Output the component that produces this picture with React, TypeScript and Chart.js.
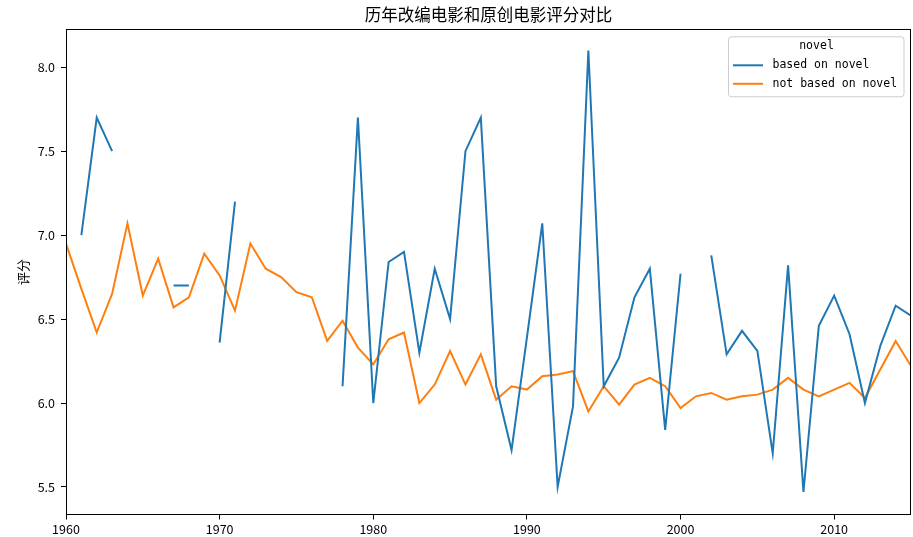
import React, { useEffect, useRef } from "react";
import { Chart, registerables } from "chart.js";

Chart.register(...registerables);

const years: number[] = [
  1960, 1961, 1962, 1963, 1964, 1965, 1966, 1967, 1968, 1969,
  1970, 1971, 1972, 1973, 1974, 1975, 1976, 1977, 1978, 1979,
  1980, 1981, 1982, 1983, 1984, 1985, 1986, 1987, 1988, 1989,
  1990, 1991, 1992, 1993, 1994, 1995, 1996, 1997, 1998, 1999,
  2000, 2001, 2002, 2003, 2004, 2005, 2006, 2007, 2008, 2009,
  2010, 2011, 2012, 2013, 2014, 2015,
];

const basedOnNovel: (number | null)[] = [
  null, 7.0, 7.7, 7.5, null, null, null, 6.7, 6.7, null,
  6.36, 7.2, null, null, null, null, null, null, 6.1, 7.7,
  6.0, 6.84, 6.9, 6.3, 6.8, 6.5, 7.5, 7.7, 6.1, 5.72,
  6.39, 7.07, 5.5, 5.98, 8.1, 6.1, 6.27, 6.63, 6.8, 5.84,
  6.77, null, 6.88, 6.29, 6.43, 6.31, 5.7, 6.82, 5.47, 6.46,
  6.64, 6.41, 6.0, 6.34, 6.58, 6.52,
];

const notBasedOnNovel: number[] = [
  6.95, 6.68, 6.42, 6.65, 7.07, 6.64, 6.86, 6.57, 6.63, 6.89,
  6.76, 6.55, 6.95, 6.8, 6.75, 6.66, 6.63, 6.37, 6.49, 6.33,
  6.23, 6.38, 6.42, 6.0, 6.11, 6.31, 6.11, 6.29, 6.02, 6.1,
  6.08, 6.16, 6.17, 6.19, 5.95, 6.1, 5.99, 6.11, 6.15, 6.1,
  5.97, 6.04, 6.06, 6.02, 6.04, 6.05, 6.08, 6.15, 6.08, 6.04,
  6.08, 6.12, 6.03, 6.2, 6.37, 6.22,
];

const xTicks: number[] = [1960, 1970, 1980, 1990, 2000, 2010];
const yTicks: number[] = [5.5, 6.0, 6.5, 7.0, 7.5, 8.0];

const seriesLabels: string[] = ["based on novel", "not based on novel"];
const seriesColors: string[] = ["#1f77b4", "#ff7f0e"];
const legendTitle = "novel";
const chartTitle = "历年改编电影和原创电影评分对比";
const yTitle = "评分";

const CJK = "'Noto Sans CJK SC', sans-serif";
const MONO = "'DejaVu Sans Mono', monospace";

const framePlugin = {
  id: "frame",
  afterDraw(chart: any) {
    const { ctx, chartArea } = chart;
    const { left, top, right, bottom } = chartArea;
    ctx.save();
    // title centred over the plot area
    ctx.fillStyle = "#000";
    ctx.font = `16.5px ${CJK}`;
    ctx.textAlign = "center";
    ctx.textBaseline = "middle";
    ctx.fillText(chartTitle, (left + right) / 2, 15);
    // frame
    ctx.strokeStyle = "#000";
    ctx.lineWidth = 1;
    ctx.strokeRect(Math.round(left) + 0.5, Math.round(top) + 0.5, Math.round(right - left) - 1, Math.round(bottom - top));
    // legend
    const bx = right - 182.5;
    const by = top + 7.5;
    const bw = 175.5;
    const bh = 60;
    const r = 3;
    ctx.beginPath();
    ctx.moveTo(bx + r, by);
    ctx.lineTo(bx + bw - r, by);
    ctx.arcTo(bx + bw, by, bx + bw, by + r, r);
    ctx.lineTo(bx + bw, by + bh - r);
    ctx.arcTo(bx + bw, by + bh, bx + bw - r, by + bh, r);
    ctx.lineTo(bx + r, by + bh);
    ctx.arcTo(bx, by + bh, bx, by + bh - r, r);
    ctx.lineTo(bx, by + r);
    ctx.arcTo(bx, by, bx + r, by, r);
    ctx.closePath();
    ctx.fillStyle = "rgba(255,255,255,0.8)";
    ctx.fill();
    ctx.strokeStyle = "#cccccc";
    ctx.stroke();
    ctx.fillStyle = "#000";
    ctx.font = `11.5px ${MONO}`;
    ctx.textBaseline = "middle";
    ctx.textAlign = "center";
    ctx.fillText(legendTitle, bx + 88, by + 9.5);
    ctx.textAlign = "left";
    seriesLabels.forEach((lab, i) => {
      const y = by + 28.5 + i * 18.5;
      ctx.strokeStyle = seriesColors[i];
      ctx.lineWidth = 2;
      ctx.beginPath();
      ctx.moveTo(bx + 4.5, y);
      ctx.lineTo(bx + 34.5, y);
      ctx.stroke();
      ctx.fillStyle = "#000";
      ctx.fillText(lab, bx + 44, y);
    });
    ctx.restore();
  },
};

export default function App() {
  const ref = useRef<HTMLCanvasElement>(null);
  useEffect(() => {
    if (!ref.current) return;
    const chart = new Chart(ref.current, {
      type: "line",
      data: {
        datasets: [
          {
            label: seriesLabels[0],
            data: years.map((y, i) => ({ x: y, y: basedOnNovel[i] })) as any,
            borderColor: seriesColors[0],
            backgroundColor: seriesColors[0],
            borderWidth: 2,
            pointRadius: 0,
            spanGaps: false,
            tension: 0,
          },
          {
            label: seriesLabels[1],
            data: years.map((y, i) => ({ x: y, y: notBasedOnNovel[i] })) as any,
            borderColor: seriesColors[1],
            backgroundColor: seriesColors[1],
            borderWidth: 2,
            pointRadius: 0,
            tension: 0,
          },
        ],
      },
      options: {
        responsive: false,
        animation: false,
        devicePixelRatio: 1,
        layout: { padding: { left: 0, right: 2, top: 29.3, bottom: 0 } },
        plugins: {
          legend: { display: false },
          tooltip: { enabled: false },
          title: { display: false },
        },
        scales: {
          x: {
            type: "linear",
            min: 1960,
            max: 2015,
            afterFit: (s: any) => { s.height = 22.5; },
            afterBuildTicks: (s: any) => { s.ticks = xTicks.map((v) => ({ value: v })); },
            grid: { display: true, drawOnChartArea: false, drawTicks: true, tickLength: 5, color: "#000" },
            border: { display: false },
            ticks: {
              color: "#000",
              font: { family: CJK, size: 12.5 },
              padding: 2,
              maxRotation: 0,
              autoSkip: false,
              callback: (v: any) => String(v),
            },
          },
          y: {
            type: "linear",
            min: 5.336,
            max: 8.226,
            afterFit: (s: any) => { s.width = 66; },
            afterBuildTicks: (s: any) => { s.ticks = yTicks.map((v) => ({ value: v })); },
            grid: { display: true, drawOnChartArea: false, drawTicks: true, tickLength: 5, color: "#000" },
            border: { display: false },
            title: {
              display: true,
              text: yTitle,
              color: "#000",
              font: { family: CJK, size: 13 },
              padding: { top: 15, bottom: 0 },
            },
            ticks: {
              color: "#000",
              font: { family: CJK, size: 12.5 },
              padding: 6,
              autoSkip: false,
              callback: (v: any) => Number(v).toFixed(1),
            },
          },
        },
      },
      plugins: [framePlugin],
    });
    return () => chart.destroy();
  }, []);
  return (
    <div style={{ position: "absolute", left: 0, top: 0, width: 913, height: 537, background: "#fff" }}>
      <canvas ref={ref} width={913} height={537} style={{ display: "block" }} />
    </div>
  );
}
